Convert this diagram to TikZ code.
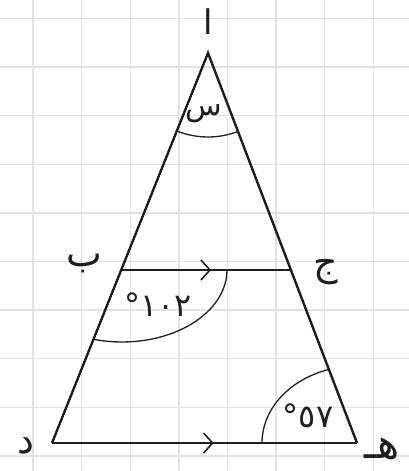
\documentclass[tikz,border=0pt]{standalone}
\usepackage{fontspec}
\newfontfamily\arabicfont[Script=Arabic]{DejaVu Sans}
\TeXXeTstate=1
\usetikzlibrary{decorations.markings,arrows.meta,calc}
\definecolor{gridc}{RGB}{226,226,226}
\definecolor{inkc}{RGB}{30,30,30}
\tikzset{
  side/.style={draw=inkc,line width=2.4pt},
  parallel/.style={side,postaction={decorate},decoration={markings,mark=at position 0.53 with {\arrow{Straight Barb[length=9pt,width=20pt,line width=1.6pt]}}}},
  anglearc/.style={draw=inkc,line width=1.3pt},
  lbl/.style={inner sep=0pt,text=inkc,font=\arabicfont\fontsize{38}{40}\selectfont},
  num/.style={inner sep=0pt,text=inkc,font=\arabicfont\fontsize{32}{34}\selectfont}
}
\begin{document}
\begin{tikzpicture}[x=1pt,y=1pt]
\useasboundingbox (0,0) rectangle (409,471);
\fill[white] (0,0) rectangle (409,471);
% grid
\foreach \gx in {33,81.6,130.2,178.8,227.4,276,324.6,373.2}
  \draw[gridc,line width=1.4pt] (\gx,0) -- (\gx,471);
\foreach \gy in {15,63.6,112.2,160.8,209.4,258,306.6,355.2,403.8,452.4}
  \draw[gridc,line width=1.4pt] (0,\gy) -- (409,\gy);
% points
\coordinate (A) at (208,418);
\coordinate (D) at (52,28);
\coordinate (E) at (357,28);
\coordinate (B) at (122,201);
\coordinate (C) at (290,201);
% sides
\draw[side,line join=miter] (D) -- (A) -- (E);
\draw[parallel] (D) -- (E);
\draw[parallel] (B) -- (C);
% angle arcs
\draw[anglearc] ($(A)+(248.2:84)$) arc[start angle=248.2,end angle=290.9,radius=84];
\draw[anglearc] ($(B)+(105,0)$) arc[start angle=0,end angle=-105.5,x radius=105,y radius=72];
\draw[anglearc] ($(E)+(-95,0)$) arc[start angle=180,end angle=107.2,x radius=95,y radius=77];
% labels
\node[lbl,font=\arabicfont\fontsize{34}{36}\selectfont] (la) at (208,449) {\beginR ا\endR};
\node[lbl,font=\arabicfont\fontsize{30}{32}\selectfont] (ls) at (204,357) {\beginR س\endR};
\node[lbl] (lb) at (84,207) {\beginR ب\endR};
\node[lbl] (lc) at (326,199) {\beginR ج\endR};
\node[lbl] (ld) at (26,25) {\beginR د\endR};
\node[lbl,font=\arabicfont\fontsize{42}{44}\selectfont] (le) at (382,22) {\beginR هـ\endR};
\node[num] (n1) at (158,166) {١٠٢°};
\node[num] (n2) at (308,55) {٥٧°};
\end{tikzpicture}
\end{document}
